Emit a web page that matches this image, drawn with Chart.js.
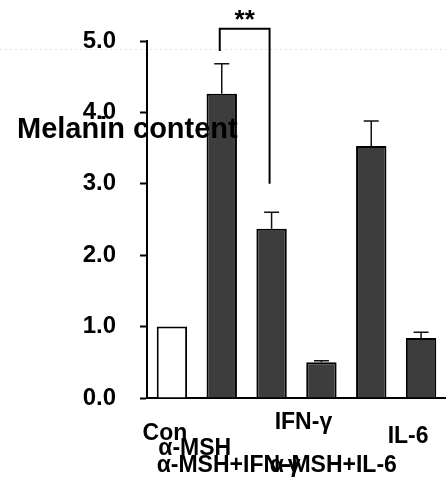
<!DOCTYPE html>
<html>
<head>
<meta charset="utf-8">
<script src="https://cdn.jsdelivr.net/npm/chart.js@4/dist/chart.umd.min.js"></script>
<style>
  html, body { margin: 0; padding: 0; background: #ffffff; }
  #wrap { width: 446px; height: 481px; position: relative; }
</style>
</head>
<body>
<div id="wrap"><canvas id="melanin-chart"></canvas></div>
<script>
// Data
const categories = ['Con', 'α-MSH', 'α-MSH+IFN-γ', 'IFN-γ', 'α-MSH+IL-6', 'IL-6'];
const melanin = [1.00, 4.26, 2.37, 0.50, 3.53, 0.84];
const errors = [0, 0.42, 0.23, 0.02, 0.35, 0.08];
const yTicks = [0, 1, 2, 3, 4, 5];
const sigPair = [1, 2];          // α-MSH vs α-MSH+IFN-γ
const sigLevels = [4.86, 5.17, 3.0]; // left leg end, bracket top, right leg end
const sigLabel = '**';

const FONT = "'Liberation Sans', Arial, sans-serif";

// staggered category labels (offset from bar centre, baseline)
const labelDx = [-7, -27, -43, -18, -38, -13];
const labelY = [440, 455, 472, 429, 472, 443];

// error bars, bracket and text that Chart.js doesn't draw itself
const extrasPlugin = {
    id: 'extras',
    beforeDraw(chart) {
        const ctx = chart.ctx;
        // faint dotted line from the scanned page
        ctx.save();
        ctx.strokeStyle = '#e2e2e2';
        ctx.lineWidth = 1;
        ctx.setLineDash([2, 3]);
        ctx.beginPath();
        ctx.moveTo(0, 49.5);
        ctx.lineTo(chart.width, 49.5);
        ctx.stroke();
        ctx.restore();
    },
    afterDraw(chart) {
        const ctx = chart.ctx;
        const x = chart.scales.x;
        const y = chart.scales.y;

        ctx.save();
        // error bars (upper only)
        ctx.strokeStyle = '#111111';
        ctx.lineWidth = 1.5;
        melanin.forEach((v, i) => {
            if (!errors[i]) return;
            const cx = x.getPixelForValue(i);
            const yTop = y.getPixelForValue(v + errors[i]);
            const yBar = y.getPixelForValue(v);
            ctx.beginPath();
            ctx.moveTo(cx, yBar);
            ctx.lineTo(cx, yTop);
            ctx.moveTo(cx - 7.5, yTop);
            ctx.lineTo(cx + 7.5, yTop);
            ctx.stroke();
        });

        // significance bracket
        const xl = x.getPixelForValue(sigPair[0]) - 2;
        const xr = x.getPixelForValue(sigPair[1]) - 2;
        ctx.strokeStyle = '#000000';
        ctx.lineWidth = 2;
        ctx.beginPath();
        ctx.moveTo(xl, y.getPixelForValue(sigLevels[0]));
        ctx.lineTo(xl, y.getPixelForValue(sigLevels[1]));
        ctx.lineTo(xr, y.getPixelForValue(sigLevels[1]));
        ctx.lineTo(xr, y.getPixelForValue(sigLevels[2]));
        ctx.stroke();
        ctx.fillStyle = '#000000';
        ctx.font = 'bold 26px ' + FONT;
        ctx.textAlign = 'center';
        ctx.textBaseline = 'alphabetic';
        ctx.fillText(sigLabel, (xl + xr) / 2, 28);

        // category labels
        ctx.font = 'bold 23px ' + FONT;
        categories.forEach((c, i) => {
            ctx.fillText(c, x.getPixelForValue(i) + labelDx[i], labelY[i]);
        });

        // y axis title, drawn across the plot like the original
        ctx.font = 'bold 29px ' + FONT;
        ctx.textAlign = 'left';
        ctx.fillText('Melanin content', 17, 138);
        ctx.restore();
    }
};

const ctx = document.getElementById('melanin-chart').getContext('2d');
new Chart(ctx, {
    type: 'bar',
    data: {
        labels: categories,
        datasets: [{
            data: melanin,
            backgroundColor: melanin.map((v, i) => i === 0 ? '#ffffff' : '#3d3d3d'),
            borderColor: '#000000',
            borderWidth: 2,
            barPercentage: 0.61,
            categoryPercentage: 1
        }]
    },
    options: {
        responsive: true,
        maintainAspectRatio: false,
        animation: false,
        layout: { padding: { top: 41, right: -4, left: 0, bottom: 0 } },
        plugins: {
            legend: { display: false },
            tooltip: { enabled: false }
        },
        scales: {
            x: {
                grid: { display: false },
                border: { display: true, color: '#000000', width: 2 },
                ticks: { display: false },
                afterFit(scale) { scale.height = 83; }
            },
            y: {
                min: 0,
                max: 5,
                afterBuildTicks(scale) { scale.ticks = yTicks.map(v => ({ value: v })); },
                grid: {
                    drawOnChartArea: false,
                    drawTicks: true,
                    tickLength: 7,
                    tickWidth: 2,
                    tickColor: '#000000'
                },
                border: { display: true, color: '#000000', width: 2 },
                ticks: {
                    padding: 24,
                    color: '#000000',
                    font: { family: FONT, size: 24, weight: 'bold' },
                    callback: v => Number(v).toFixed(1)
                },
                afterFit(scale) { scale.width = 147; }
            }
        }
    },
    plugins: [extrasPlugin]
});
</script>
</body>
</html>
